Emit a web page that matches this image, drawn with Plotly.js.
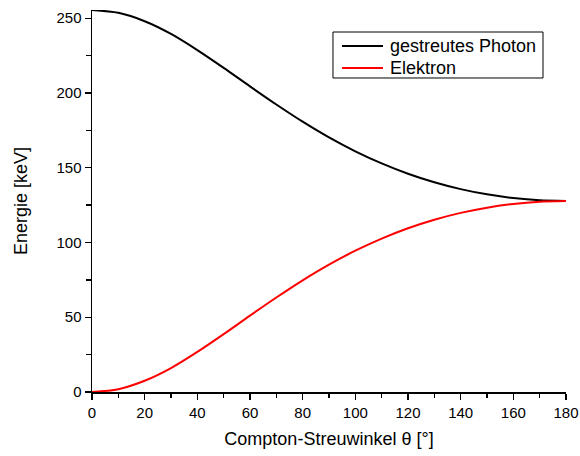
<!DOCTYPE html>
<html>
<head>
<meta charset="utf-8">
<script src="https://cdn.plot.ly/plotly-3.0.1.min.js"></script>
<style>
html,body{margin:0;padding:0;background:#fff;}
#chart{width:580px;height:456px;}
</style>
</head>
<body>
<div id="chart"></div>
<script>
// Scattering angle in degrees
const angle = [0, 10, 20, 30, 40, 50, 60, 70, 80, 90, 100, 110, 120, 130, 140, 150, 160, 170, 180];
// Energy of the scattered photon [keV]
const photonEnergy = [255.5, 253.6, 248.0, 239.5, 228.7, 216.8, 204.4, 192.3, 180.8, 170.3, 161.0, 152.9, 146.0, 140.3, 135.7, 132.2, 129.7, 128.2, 127.8];
// Energy of the electron [keV]
const electronEnergy = [0, 1.9, 7.5, 16.0, 26.8, 38.7, 51.1, 63.2, 74.7, 85.2, 94.5, 102.6, 109.5, 115.2, 119.8, 123.3, 125.8, 127.3, 127.8];
const seriesNames = ["gestreutes Photon", "Elektron"];
const seriesColors = ["#000000", "#ff0000"];
const xTickVals = [0, 20, 40, 60, 80, 100, 120, 140, 160, 180];
const yTickVals = [0, 50, 100, 150, 200, 250];

const FONT = "Liberation Sans, Arial, sans-serif";
const xRange = [0, 180];
const yRange = [0, 255.5];

const traces = [
  {x: angle, y: photonEnergy, name: seriesNames[0], type: "scatter", mode: "lines",
   line: {color: seriesColors[0], width: 2, shape: "spline", smoothing: 0.8}},
  {x: angle, y: electronEnergy, name: seriesNames[1], type: "scatter", mode: "lines",
   line: {color: seriesColors[1], width: 2, shape: "spline", smoothing: 0.8}}
];

// Legend box (drawn in paper coordinates of the plot area)
const legBox = {x0: 0.5084, x1: 0.9515, y0: 0.822, y1: 0.9424};
const legRowY = [0.9058, 0.8482];
const legLineX = [0.5274, 0.6139];
const legTextX = 0.6245;

const shapes = [
  {type: "rect", xref: "paper", yref: "paper", x0: legBox.x0, x1: legBox.x1, y0: legBox.y0, y1: legBox.y1,
   line: {color: "#000", width: 1}, fillcolor: "#fff", layer: "above"}
];
const annotations = [];
seriesNames.forEach((name, i) => {
  shapes.push({type: "line", xref: "paper", yref: "paper", x0: legLineX[0], x1: legLineX[1],
               y0: legRowY[i], y1: legRowY[i], line: {color: seriesColors[i], width: 2}, layer: "above"});
  annotations.push({xref: "paper", yref: "paper", x: legTextX, y: legRowY[i], xanchor: "left", yanchor: "middle",
                    text: name, showarrow: false, font: {family: FONT, size: 18, color: "#000"}});
});

const baseAxis = {
  showgrid: false, zeroline: false, showline: true, linecolor: "#000", linewidth: 1.5,
  ticklen: 6, tickwidth: 1.3, tickcolor: "#000",
  tickfont: {family: FONT, size: 15, color: "#000"}
};

const layout = {
  width: 580, height: 456,
  margin: {l: 92, r: 14, t: 10, b: 64},
  paper_bgcolor: "#fff", plot_bgcolor: "#fff",
  font: {family: FONT, color: "#000"},
  showlegend: false,
  shapes: shapes,
  annotations: annotations,
  xaxis: Object.assign({}, baseAxis, {
    range: xRange, tickvals: xTickVals, ticks: "outside",
    minor: {dtick: 10, ticks: "outside", ticklen: 4, tickwidth: 1.3, tickcolor: "#000"},
    title: {text: "Compton-Streuwinkel θ [°]", font: {family: FONT, size: 18, color: "#000"}, standoff: 13}
  }),
  yaxis: Object.assign({}, baseAxis, {
    range: yRange, tickvals: yTickVals, ticks: "outside",
    minor: {dtick: 25, ticks: "outside", ticklen: 5, tickwidth: 1.3, tickcolor: "#000"},
    title: {text: "Energie [keV]", font: {family: FONT, size: 18, color: "#000"}, standoff: 24}
  }),
  xaxis2: Object.assign({}, baseAxis, {
    overlaying: "x", side: "top", anchor: "y", range: xRange, tickvals: xTickVals,
    ticks: "inside", showticklabels: false,
    minor: {dtick: 10, ticks: "inside", ticklen: 4, tickwidth: 1.3, tickcolor: "#000"}
  }),
  yaxis2: Object.assign({}, baseAxis, {
    overlaying: "y", side: "right", anchor: "x", range: yRange, tickvals: yTickVals,
    ticks: "inside", showticklabels: false,
    minor: {dtick: 25, ticks: "inside", ticklen: 4, tickwidth: 1.3, tickcolor: "#000"}
  })
};

Plotly.newPlot("chart", traces, layout, {staticPlot: true, displayModeBar: false});
</script>
</body>
</html>
